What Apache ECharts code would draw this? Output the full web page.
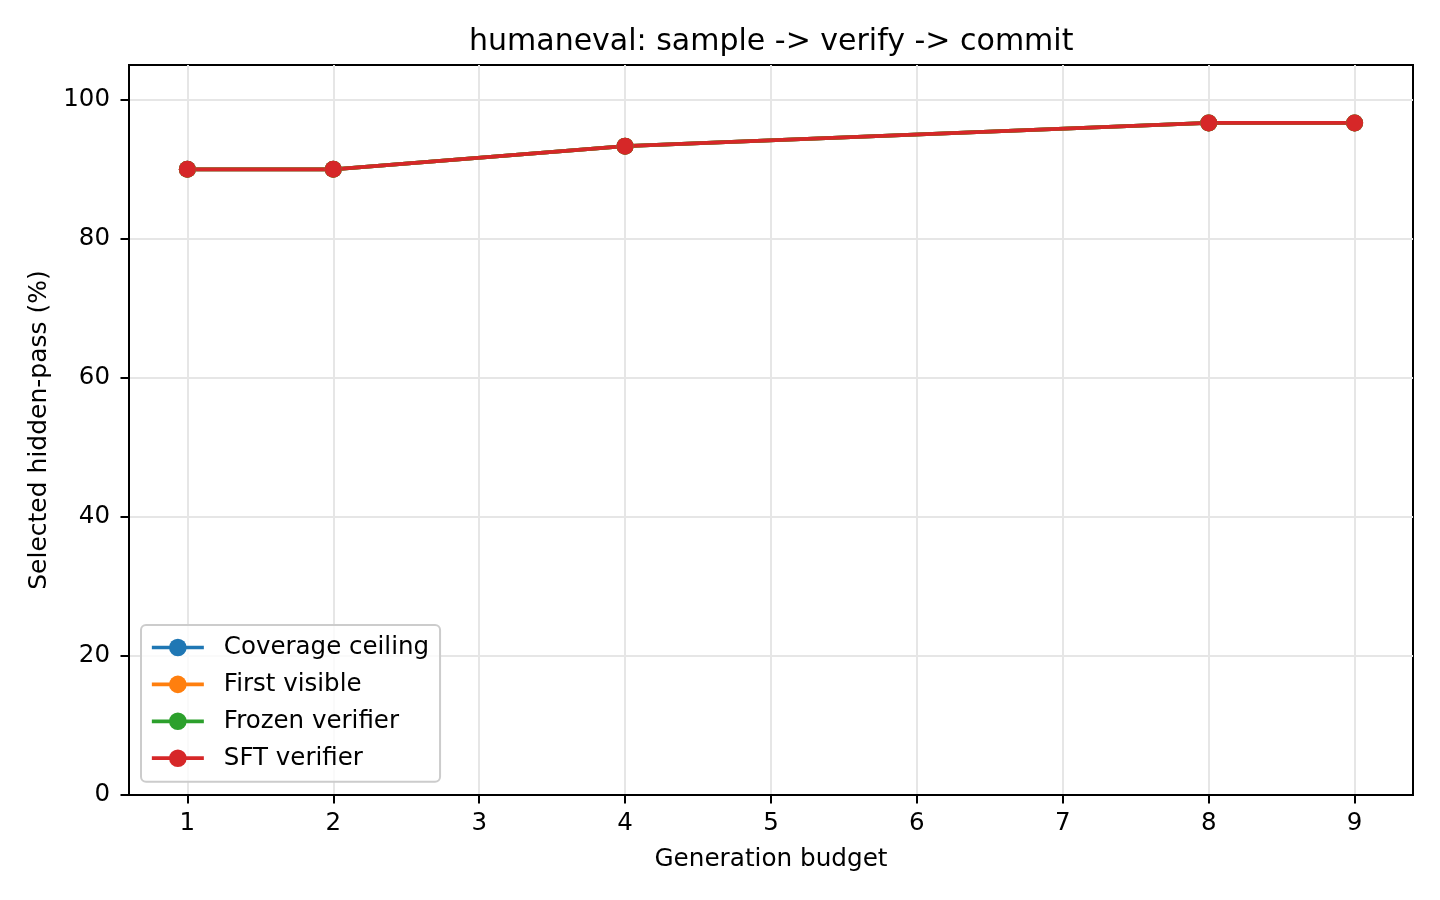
<!DOCTYPE html>
<html>
<head>
<meta charset="utf-8">
<script src="https://cdn.jsdelivr.net/npm/echarts@6/dist/echarts.min.js"></script>
<style>
html,body{margin:0;padding:0;background:#fff;}
#chart{width:1440px;height:900px;}
</style>
</head>
<body>
<div id="chart"></div>
<script>
const budgets = [1, 2, 4, 8, 9];
const coverageCeiling = [90.0, 90.0, 93.33, 96.67, 96.67];
const firstVisible = [90.0, 90.0, 93.33, 96.67, 96.67];
const frozenVerifier = [90.0, 90.0, 93.33, 96.67, 96.67];
const sftVerifier = [90.0, 90.0, 93.33, 96.67, 96.67];
const seriesNames = ['Coverage ceiling', 'First visible', 'Frozen verifier', 'SFT verifier'];
const xTicks = [1, 2, 3, 4, 5, 6, 7, 8, 9];
const yTicks = [0, 20, 40, 60, 80, 100];

const colors = ['#1f77b4', '#ff7f0e', '#2ca02c', '#d62728'];
const FONT = 'DejaVu Sans';
const FS = 24.5;
const chart = echarts.init(document.getElementById('chart'));

function mk(name, vals, color) {
  return {
    name: name,
    type: 'line',
    data: budgets.map((b, i) => [b, vals[i]]),
    symbol: 'circle',
    symbolSize: 17,
    lineStyle: { color: color, width: 3.7 },
    itemStyle: { color: color },
    emphasis: { disabled: true },
    z: 3
  };
}

const option = {
  animation: false,
  backgroundColor: '#ffffff',
  title: {
    text: 'humaneval: sample -> verify -> commit',
    left: 469,
    top: 27,
    padding: 0,
    textStyle: { fontFamily: FONT, fontSize: 30, fontWeight: 'normal', color: '#000' }
  },
  grid: {
    left: 129, right: 27, top: 65, bottom: 105,
    show: true, borderColor: '#000', borderWidth: 2, backgroundColor: 'transparent',
    containLabel: false
  },
  legend: {
    orient: 'vertical',
    left: 141,
    top: 625,
    data: seriesNames,
    itemWidth: 52,
    itemHeight: 22,
    itemGap: 11.9,
    padding: [10, 11, 11, 9],
    backgroundColor: 'rgba(255,255,255,0.8)',
    borderColor: '#cccccc',
    borderWidth: 2,
    borderRadius: 5,
    lineStyle: { width: 3.7 },
    textStyle: { fontFamily: FONT, fontSize: FS, color: '#000', lineHeight: 22, padding: [0, 0, 0, 15] }
  },
  xAxis: {
    type: 'value',
    min: 0.6,
    max: 9.4,
    name: 'Generation budget',
    nameLocation: 'middle',
    nameGap: 52,
    nameTextStyle: { fontFamily: FONT, fontSize: 24.7, color: '#000' },
    axisLine: { show: true, lineStyle: { color: '#000', width: 2 } },
    axisTick: { show: true, length: 8.5, inside: false, lineStyle: { color: '#000', width: 2 }, customValues: xTicks },
    axisLabel: { fontFamily: FONT, fontSize: FS, color: '#000', margin: 16, customValues: xTicks },
    splitLine: { show: true, lineStyle: { color: '#e6e6e6', width: 2 } }
  },
  yAxis: {
    type: 'value',
    min: 0,
    max: 105,
    interval: 20,
    name: 'Selected hidden-pass (%)',
    nameLocation: 'middle',
    nameGap: 74,
    nameTextStyle: { fontFamily: FONT, fontSize: 25, color: '#000' },
    axisLine: { show: true, lineStyle: { color: '#000', width: 2 } },
    axisTick: { show: true, length: 8.5, inside: false, lineStyle: { color: '#000', width: 2 }, customValues: yTicks },
    axisLabel: { fontFamily: FONT, fontSize: FS, color: '#000', margin: 19, customValues: yTicks },
    splitLine: { show: true, lineStyle: { color: '#e6e6e6', width: 2 } }
  },
  series: [
    mk(seriesNames[0], coverageCeiling, colors[0]),
    mk(seriesNames[1], firstVisible, colors[1]),
    mk(seriesNames[2], frozenVerifier, colors[2]),
    mk(seriesNames[3], sftVerifier, colors[3])
  ]
};
chart.setOption(option);
</script>
</body>
</html>
